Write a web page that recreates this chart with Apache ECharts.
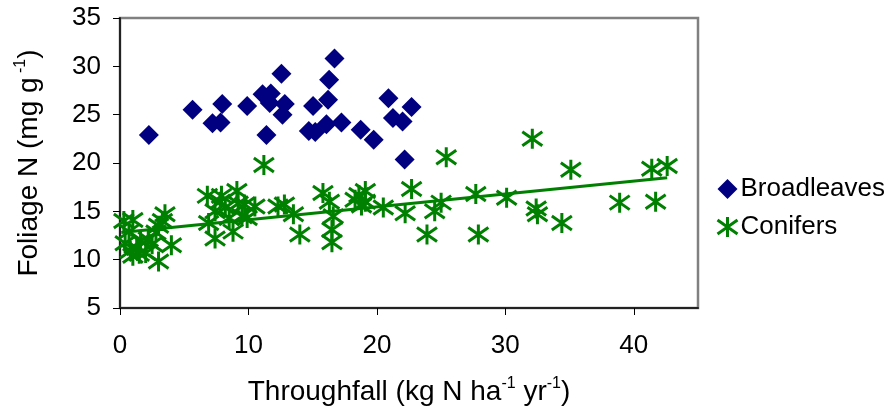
<!DOCTYPE html>
<html>
<head>
<meta charset="utf-8">
<script src="https://cdn.jsdelivr.net/npm/echarts@6/dist/echarts.min.js"></script>
<style>html,body{margin:0;padding:0;background:#fff}#c{width:893px;height:414px}</style>
</head>
<body>
<div id="c"></div>
<script>
var broadleaves = [
  [2.25,22.9],[5.65,25.5],[7.96,26.1],[7.2,24.1],[7.83,24.2],[9.9,25.9],[11.1,27.1],[11.74,27.2],
  [11.66,26.2],[12.57,29.24],[12.83,26.1],[12.65,25.0],[11.4,22.9],[15.03,25.9],[16.2,26.55],
  [16.28,28.6],[16.7,30.8],[14.7,23.3],[15.2,23.2],[16.07,24.0],[17.24,24.2],[18.74,23.45],[19.75,22.4],
  [20.9,26.7],[21.25,24.66],[22.0,24.3],[22.7,25.8],[22.16,20.35]
];
var conifers = [
  [0.3,14.0],[1.0,14.1],[0.7,12.9],[0.4,11.7],[0.8,10.9],[1.3,11.2],[1.6,11.9],[2.0,10.7],[2.2,12.1],
  [2.8,12.8],[3.0,13.5],[3.5,14.7],[3.0,9.8],[4.0,11.5],[1.0,10.4],[1.5,10.6],[2.5,11.6],[3.3,14.0],
  [6.8,16.6],[7.9,16.6],[9.1,17.1],[6.9,13.8],[7.4,12.2],[8.8,12.9],[7.4,15.0],[8.2,15.4],[9.7,15.7],
  [10.5,15.5],[9.5,14.5],[8.5,14.3],[9.9,14.3],[11.2,19.8],[12.3,15.5],[12.8,15.7],[13.5,14.7],[14.0,12.6],
  [7.8,16.0],[9.2,15.8],
  [15.8,16.9],[16.3,16.0],[16.6,14.5],[16.5,13.1],[16.5,11.8],[18.3,16.2],[18.6,16.7],[19.1,17.1],
  [19.1,16.0],[18.8,15.6],[20.5,15.4],[22.2,14.8],[22.7,17.3],
  [25.4,20.6],[24.5,15.0],[25.0,15.9],[23.9,12.6],[27.7,16.8],[27.9,12.6],[30.1,16.4],[32.1,22.5],
  [35.1,19.3],[32.4,15.3],[32.5,14.7],[34.4,13.8],[38.9,15.9],[41.7,16.0],[41.4,19.4],[42.6,19.7]
];
var trendX = [0.1, 42.6];
var trendY = [12.8, 18.47];
var xTicks = [0, 10, 20, 30, 40];
var yTicks = [5, 10, 15, 20, 25, 30, 35];

var font = 'Liberation Sans, Arial, sans-serif';
var chart = echarts.init(document.getElementById('c'), null, {renderer: 'canvas'});
var asterisk = 'path://M10,0L10,20M0,3L20,17M0,17L20,3';
chart.setOption({
  animation: false,
  backgroundColor: '#fff',
  grid: {left: 120, top: 18, right: 195, bottom: 106, show: true, borderColor: '#808080', borderWidth: 2.5, backgroundColor: '#fff'},
  xAxis: {
    type: 'value', min: 0, max: 45, interval: 10,
    axisLine: {show: true, lineStyle: {color: '#222', width: 2}},
    axisTick: {show: true, length: 7, lineStyle: {color: '#000', width: 1}},
    axisLabel: {showMaxLabel: false, margin: 25, color: '#000', fontSize: 26, fontFamily: font,
      formatter: function (v) { return xTicks.indexOf(v) >= 0 ? String(v) : ''; }},
    splitLine: {show: false},
    name: 'Throughfall (kg N ha{s|-1} yr{s|-1})',
    nameLocation: 'middle', nameGap: 68,
    nameTextStyle: {color: '#000', fontSize: 28, fontFamily: font, lineHeight: 32,
      rich: {s: {fontSize: 16, fontFamily: font, color: '#000', verticalAlign: 'top', lineHeight: 32}}}
  },
  yAxis: {
    type: 'value', min: 5, max: 35, interval: 5,
    axisLine: {show: true, lineStyle: {color: '#222', width: 2}},
    axisTick: {show: true, length: 7, lineStyle: {color: '#000', width: 1}},
    axisLabel: {margin: 19, color: '#000', fontSize: 26, fontFamily: font,
      formatter: function (v) { return yTicks.indexOf(v) >= 0 ? String(v) : ''; }},
    splitLine: {show: false},
    name: 'Foliage N (mg g{s| -1})',
    nameLocation: 'middle', nameGap: 75, nameRotate: 90,
    nameTextStyle: {color: '#000', fontSize: 28, fontFamily: font, lineHeight: 32,
      rich: {s: {fontSize: 16, fontFamily: font, color: '#000', verticalAlign: 'top', lineHeight: 32}}}
  },
  legend: {
    orient: 'vertical', left: 711, top: 171, itemGap: 12, itemWidth: 20, itemHeight: 20,
    textStyle: {fontSize: 26, fontFamily: font, color: '#000', padding: [0,0,0,-2]},
    data: [
      {name: 'Broadleaves', icon: 'diamond', itemStyle: {color: '#000080'}},
      {name: 'Conifers', icon: asterisk, itemStyle: {color: 'rgba(0,0,0,0)', borderColor: '#008000', borderWidth: 3}}
    ]
  },
  series: [
    {name: 'Broadleaves', type: 'scatter', data: broadleaves, symbol: 'diamond', symbolSize: 20,
     itemStyle: {color: '#000080', opacity: 1}},
    {name: 'Conifers', type: 'scatter', data: conifers, symbol: asterisk, symbolSize: 20,
     itemStyle: {color: 'rgba(0,0,0,0)', borderColor: '#008000', borderWidth: 3, opacity: 1}},
    {name: 'trend', type: 'line', data: trendX.map(function (x, i) { return [x, trendY[i]]; }),
     showSymbol: false, symbol: 'none', lineStyle: {color: '#008000', width: 3}, z: 3}
  ]
});
</script>
</body>
</html>
